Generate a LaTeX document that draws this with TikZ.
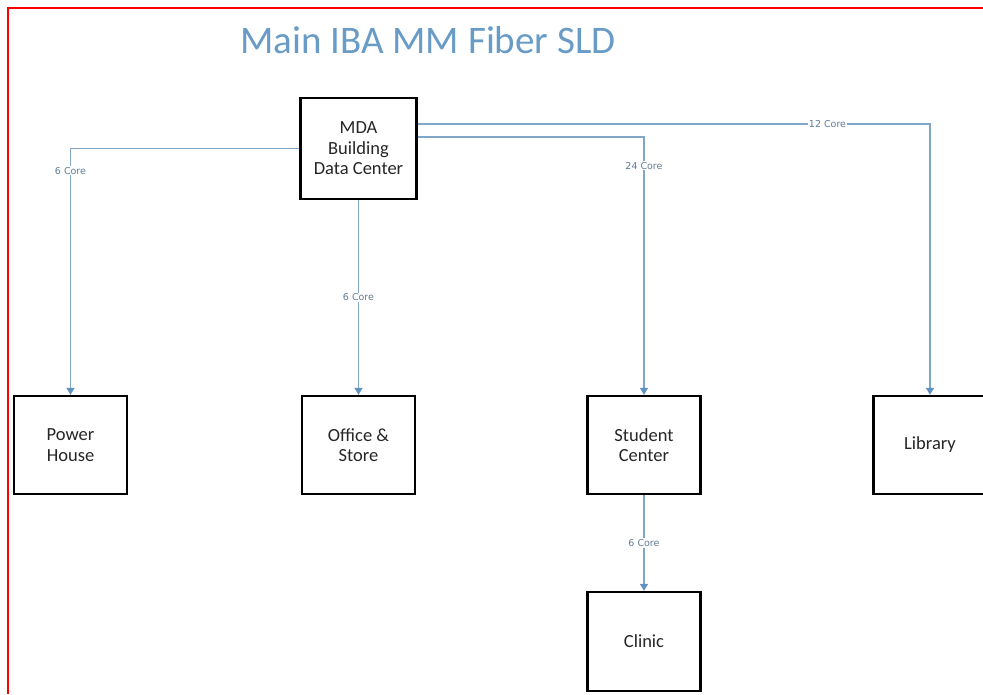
\documentclass[tikz,border=0pt]{standalone}
\usepackage{fontspec}
\setmainfont{Carlito}
\newfontfamily\corefont{DejaVu Sans}
\usetikzlibrary{arrows.meta}
\definecolor{fiberblue}{RGB}{128,166,202}
\definecolor{tipblue}{RGB}{96,146,192}
\definecolor{titleblue}{RGB}{104,155,198}
\definecolor{labelgray}{RGB}{98,124,150}

\begin{document}
\begin{tikzpicture}[x=1pt,y=-1pt,
		building/.style={draw=black,line width=2.3pt,fill=white,text=black!85,minimum width=113pt,minimum height=98pt,align=center,font=\fontsize{18.5}{20.5}\selectfont,inner sep=0pt},
		fiber/.style={draw=fiberblue,line width=1.3pt,-{Triangle[width=8pt,length=7pt,color=tipblue]}},
		core/.style={fill=white,text=labelgray,font=\corefont\fontsize{9.5}{11}\selectfont,inner sep=1pt}]
		%page + frame
			\useasboundingbox (0,0) rectangle (983,694);
			\draw[red,line width=2pt] (8,694) -- (8,8) -- (983,8);
			\node[text=titleblue,font=\fontsize{39}{44}\selectfont] (title) at (428,40) {Main IBA MM Fiber SLD};
		%buildings
			\node[building,minimum width=116pt,minimum height=101pt] (mda) at (358.5,148.5) {MDA\\Building\\Data Center};
			\node[building] (power) at (70.5,445) {Power\\House};
			\node[building] (office) at (358.5,445) {Office \&\\Store};
			\node[building] (student) at (644,445) {Student\\Center};
			\node[building] (library) at (930,445) {Library};
			\node[building,minimum height=99pt] (clinic) at (644,641.5) {Clinic};
		%fiber runs + core counts
			\draw[fiber] (mda.west) -| node[core,pos=0.545] {6 Core} (power.north);
			\draw[fiber] (mda.south) -- node[core] {6 Core} (office.north);
			\draw[fiber] ([yshift=11.5pt]mda.east) -| node[core,pos=0.556] {24 Core} (student.north);
			\draw[fiber] ([yshift=24.5pt]mda.east) -| node[core,pos=0.4] {12 Core} (library.north);
			\draw[fiber] (student.south) -- node[core] {6 Core} (clinic.north);
	\end{tikzpicture}
\end{document}
